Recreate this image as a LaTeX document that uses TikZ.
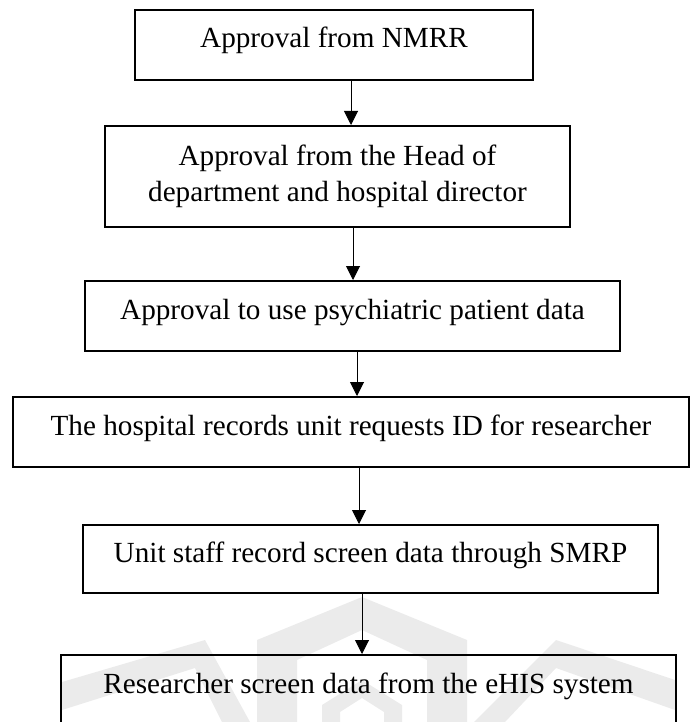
\documentclass[tikz,border=0pt]{standalone}
\usepackage{fontspec}
\setmainfont{Liberation Serif}
\usetikzlibrary{arrows.meta}
\begin{document}
\begin{tikzpicture}[x=1pt,y=-1pt,
  box/.style={draw=black, line width=2pt, rectangle, inner sep=0pt,
    font=\fontsize{29.2}{36}\selectfont, text height=20pt, text depth=14pt},
  boxtwo/.style={draw=black, line width=2pt, rectangle, inner sep=0pt,
    align=center, font=\fontsize{29.2}{36}\selectfont},
  arr/.style={line width=1pt, -{Triangle[length=14pt,width=14pt]}},
  wm/.style={fill=black!8, draw=none}]
\useasboundingbox (0,0) rectangle (691,722);
\clip (0,0) rectangle (691,722);
% faint watermark
\fill[wm, even odd rule] (257,722) -- (257,640) -- (362,597) -- (467,640) -- (467,722) -- cycle
  (297,722) -- (297,660) -- (362,630) -- (427,660) -- (427,722) -- cycle;
\fill[wm, even odd rule] (322,722) -- (322,705) -- (362,680) -- (402,705) -- (402,722) -- cycle
  (340,722) -- (340,712) -- (362,698) -- (384,712) -- (384,722) -- cycle;
\fill[wm] (62,682) -- (205,640) -- (250,722) -- (222,722) -- (195,668) -- (62,710) -- cycle;
\fill[wm] (474,722) -- (556,640) -- (675,680) -- (675,710) -- (556,668) -- (505,722) -- cycle;
% boxes
\node[box, minimum width=398pt, minimum height=70pt] (b1) at (334,45) {Approval from NMRR};
\node[boxtwo, minimum width=465pt, minimum height=101pt] (b2) at (337.5,176.5)
  {Approval from the Head of\\department and hospital director};
\node[box, minimum width=535pt, minimum height=70pt] (b3) at (352.5,316) {Approval to use psychiatric patient data};
\node[box, minimum width=676pt, minimum height=70pt] (b4) at (351,432) {The hospital records unit requests ID for researcher};
\node[box, minimum width=575pt, minimum height=68pt] (b5) at (370.5,559) {Unit staff record screen data through SMRP};
\node[box, minimum width=615pt, minimum height=70pt] (b6) at (368.5,690) {Researcher screen data from the eHIS system};
% arrows
\draw[arr] ([xshift=17pt]b1.south) -- ([xshift=17pt]b1.south |- b2.north);
\draw[arr] ([xshift=15.5pt]b2.south) -- ([xshift=15.5pt]b2.south |- b3.north);
\draw[arr] ([xshift=4.5pt]b3.south) -- ([xshift=4.5pt]b3.south |- b4.north);
\draw[arr] ([xshift=8pt]b4.south) -- ([xshift=8pt]b4.south |- b5.north);
\draw[arr] ([xshift=-8.5pt]b5.south) -- ([xshift=-8.5pt]b5.south |- b6.north);
\end{tikzpicture}
\end{document}
